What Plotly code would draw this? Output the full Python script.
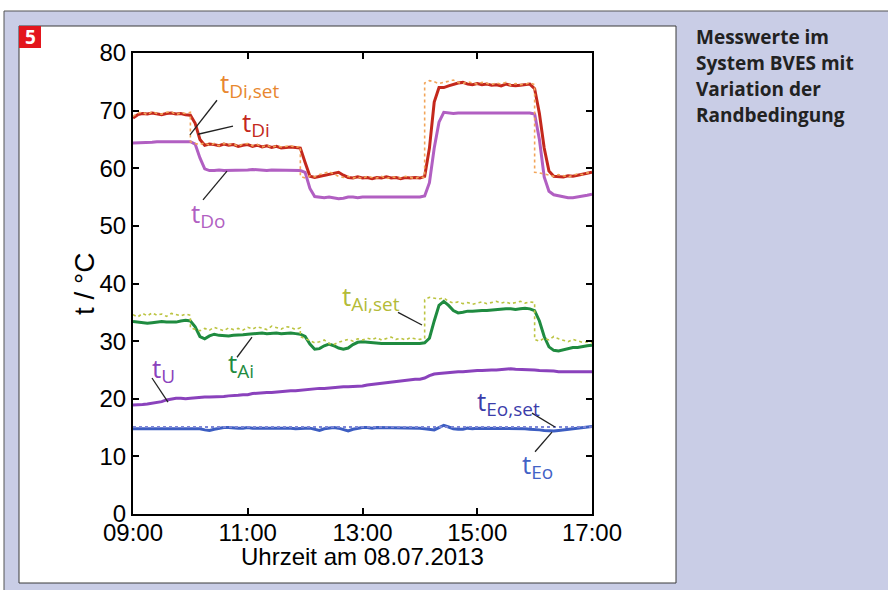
import plotly.graph_objects as go

W, H = 888, 590

# Measured series: one sample every 5 minutes from 09:00 to 17:00
minutes = list(range(0, 481, 5))
hours = [9 + m / 60 for m in minutes]

t_Di = [68.7, 69.3, 69.5, 69.4, 69.6, 69.5, 69.3, 69.5, 69.6, 69.4, 69.5, 69.3,
        69.2, 67.8, 65.0, 64.0, 64.2, 64.1, 63.9, 64.2, 64.0, 64.1, 63.8, 64.0,
        64.1, 63.8, 64.0, 63.7, 63.9, 63.6, 63.8, 63.5, 63.6, 63.7, 63.6, 63.5,
        61.0, 58.6, 58.4, 58.6, 58.8, 59.0, 59.2, 59.3, 58.8, 58.4, 58.3, 58.5,
        58.3, 58.4, 58.2, 58.4, 58.3, 58.5, 58.3, 58.4, 58.2, 58.4, 58.3, 58.4,
        58.3, 58.6, 63.5, 71.5, 74.0, 74.0, 74.3, 74.6, 74.8, 74.9, 74.6, 74.5,
        74.7, 74.5, 74.6, 74.4, 74.5, 74.3, 74.6, 74.4, 74.3, 74.4, 74.5, 74.6,
        73.8, 69.5, 63.5, 59.5, 58.6, 58.6, 58.5, 58.7, 58.6, 58.8, 59.0, 59.1,
        59.3]

t_Do = [64.4, 64.4, 64.5, 64.5, 64.5, 64.6, 64.6, 64.6, 64.7, 64.7, 64.7, 64.7,
        64.6, 64.2, 61.8, 59.9, 59.6,
        59.6, 59.7, 59.6, 59.6, 59.7, 59.7, 59.6, 59.7, 59.8, 59.7, 59.7, 59.6,
        59.7, 59.7, 59.6, 59.7, 59.6, 59.6, 59.6,
        59.3, 56.5, 55.1,
        55.0, 54.9, 55.0, 54.9, 54.7, 54.8, 55.0, 55.0, 54.9, 55.0, 55.0, 54.9,
        55.0, 55.0, 55.0, 54.9, 55.0, 55.0, 55.0, 55.0, 55.0, 55.0,
        55.2, 57.5, 63.5, 68.0, 69.7, 69.6,
        69.5, 69.6, 69.6, 69.5, 69.6, 69.6, 69.6, 69.5, 69.6, 69.6, 69.6, 69.6,
        69.6, 69.5, 69.6, 69.6, 69.6,
        69.4, 65.0, 58.5, 56.0, 55.4, 55.2, 55.0,
        54.9, 54.9, 55.0, 55.1, 55.3, 55.5]

t_Ai = [33.4, 33.3, 33.2, 33.1, 33.2, 33.3, 33.4, 33.3, 33.3, 33.3, 33.5, 33.6,
        33.5, 32.5, 30.8, 30.4, 30.9, 31.2, 31.0, 30.9, 30.9, 31.0, 31.0, 31.1,
        31.2, 31.3, 31.3, 31.4, 31.3, 31.4, 31.4, 31.3, 31.4, 31.4, 31.3, 31.2,
        30.8, 29.5, 28.6, 28.7, 29.2, 29.5, 29.2, 28.8, 28.6, 28.8, 29.4, 29.8,
        29.9, 29.8, 29.7, 29.6, 29.6, 29.6, 29.6, 29.5, 29.6, 29.6, 29.6, 29.6,
        29.6, 29.7, 30.5, 33.5, 36.2, 36.9, 36.2, 35.3, 34.9, 35.0, 35.2, 35.2,
        35.3, 35.3, 35.3, 35.4, 35.4, 35.5, 35.6, 35.6, 35.5, 35.6, 35.7, 35.6,
        35.3, 33.5, 30.8, 29.0, 28.4, 28.3, 28.5, 28.7, 28.9, 28.9, 29.1, 29.2,
        29.3]

t_U = [18.9, 18.9, 19.0, 19.1, 19.2, 19.3, 19.5, 19.8, 20.0, 20.1, 20.1, 20.0,
       20.1, 20.2, 20.2, 20.3, 20.3, 20.3, 20.4, 20.4, 20.5, 20.5, 20.6, 20.7,
       20.7, 20.9, 21.0, 21.0, 21.1, 21.1, 21.2, 21.3, 21.3, 21.4, 21.4, 21.5,
       21.5, 21.6, 21.7, 21.8, 21.8, 21.9, 22.0, 22.0, 22.1, 22.1, 22.1, 22.2,
       22.2, 22.4, 22.5, 22.6, 22.7, 22.9, 23.0, 23.1, 23.1, 23.2, 23.3, 23.4,
       23.4, 23.6, 24.0, 24.3, 24.4, 24.5, 24.6, 24.6, 24.7, 24.7, 24.8, 24.8,
       24.9, 24.9, 25.0, 25.0, 25.0, 25.1, 25.1, 25.2, 25.1, 25.1, 25.0, 25.0,
       25.0, 24.9, 24.9, 24.8, 24.8, 24.7, 24.7, 24.7, 24.7, 24.7, 24.7, 24.7,
       24.7]

t_Eo = [14.8, 14.8, 14.9, 14.8, 14.8, 14.9, 14.9, 14.8, 14.8, 14.9, 14.9, 14.9,
        14.9, 14.8, 14.8, 14.6, 14.5, 14.7, 14.9, 15.0, 15.0,
        14.9, 14.9, 14.9, 15.0, 14.9, 14.9, 14.9, 14.9, 14.9, 15.0, 14.9, 14.9,
        14.9, 14.8, 14.9, 14.9, 14.9, 14.7,
        14.5, 14.8, 14.9, 15.0, 14.9, 14.6, 14.4, 14.7, 14.9, 15.0,
        15.0, 14.9, 15.0, 15.0, 14.9, 15.0, 15.0, 14.9, 15.0, 15.0, 14.9, 14.9,
        14.8, 14.7,
        14.6, 15.0, 15.4, 15.1, 14.8, 14.7, 14.7, 14.9, 14.8, 14.9,
        14.9, 14.8, 14.9, 14.9, 14.8, 14.8, 14.8, 14.9, 14.8, 14.8, 14.7, 14.7,
        14.6, 14.5, 14.4, 14.4, 14.5, 14.6, 14.7, 14.8, 14.9, 15.0, 15.1, 15.2]

# Set points: 5-minute samples, split at the switching times (minutes after 09:00)
SET_BREAKS = [0, 60, 175, 305, 420, 480]
set_hours = []
for a, b in zip(SET_BREAKS[:-1], SET_BREAKS[1:]):
    set_hours += [9 + m / 60 for m in range(a, b + 1, 5)]

t_Di_set = (
    [69.0, 69.6, 69.7, 69.3, 69.8, 69.5, 69.4, 69.7, 69.8, 69.3, 69.6, 69.5, 69.7]
    + [64.6, 64.3, 64.1, 64.4, 64.0, 64.3, 63.9, 64.3, 64.1, 64.2, 63.8, 64.2,
       64.3, 63.9, 64.1, 63.7, 64.0, 63.6, 63.9, 63.7, 63.8, 63.9, 63.6, 63.8]
    + [58.6, 58.3, 58.7, 58.5, 58.9, 59.1, 59.4, 59.0, 58.6, 58.4, 58.6, 58.3,
       58.5, 58.2, 58.6, 58.4, 58.3, 58.6, 58.2, 58.5, 58.4, 58.3, 58.6, 58.4,
       58.2, 58.5, 58.4]
    + [74.8, 75.2, 75.0, 74.7, 74.9, 75.1, 75.3, 74.9, 74.7, 75.0, 74.8, 74.6,
       74.9, 74.7, 74.5, 74.8, 74.6, 74.9, 74.4, 74.7, 74.5, 74.6, 74.8, 74.5]
    + [59.3, 59.2, 59.0, 58.8, 58.6, 58.9, 58.7, 58.5, 58.8, 59.0, 58.9, 59.2, 59.3]
)

t_Ai_set = (
    [34.6, 34.2, 34.8, 34.4, 34.9, 34.5, 34.7, 34.3, 34.8, 34.6, 34.4, 34.7, 34.5]
    + [32.3, 32.0, 31.8, 32.2, 31.9, 32.4, 32.1, 31.8, 32.3, 32.0, 32.2, 31.9,
       32.4, 32.1, 32.5, 32.2, 32.0, 32.6, 32.3, 32.1, 32.5, 32.4, 32.0, 32.3]
    + [30.8, 30.4, 30.0, 29.7, 29.9, 30.2, 29.6, 29.4, 29.8, 30.1, 30.3, 30.0,
       30.4, 30.2, 30.5, 30.3, 30.6, 30.2, 30.4, 30.7, 30.3, 30.5, 30.2, 30.6,
       30.4, 30.3, 30.5]
    + [37.2, 37.6, 37.4, 37.3, 37.5, 36.9, 36.6, 36.8, 36.5, 36.7, 36.4, 36.6,
       36.8, 36.5, 36.7, 36.9, 36.6, 36.8, 36.5, 36.7, 36.9, 36.6, 36.8, 36.7]
    + [30.3, 30.0, 30.5, 30.2, 30.8, 30.4, 30.1, 29.9, 30.3, 30.0, 29.8, 29.9, 29.7]
)

eo_set_hours = [9.0, 17.0]
t_Eo_set = [15.1, 15.1]

for s in (t_Di, t_Do, t_Ai, t_U, t_Eo):
    assert len(s) == len(hours)
for s in (t_Di_set, t_Ai_set):
    assert len(s) == len(set_hours)

x_ticks = [9, 11, 13, 15, 17]
x_tick_text = ["09:00", "11:00", "13:00", "15:00", "17:00"]
y_ticks = [0, 10, 20, 30, 40, 50, 60, 70, 80]

C_DI, C_DI_SET = "#c4281c", "#f2a55a"
C_DO = "#b15fc2"
C_AI, C_AI_SET = "#1f8b40", "#bcc442"
C_U = "#8a42bc"
C_EO, C_EO_SET = "#3d5ec2", "#7d86d6"

fig = go.Figure()


def solid(x, y, color, name):
    fig.add_trace(go.Scatter(x=x, y=y, mode="lines", name=name,
                             line=dict(color=color, width=3)))


def dotted(x, y, color, name, width=1.6):
    fig.add_trace(go.Scatter(x=x, y=y, mode="lines", name=name,
                             line=dict(color=color, width=width, dash="dot")))


solid(hours, t_Do, C_DO, "tDo")
solid(hours, t_Di, C_DI, "tDi")
dotted(set_hours, t_Di_set, C_DI_SET, "tDi,set")
solid(hours, t_Ai, C_AI, "tAi")
dotted(set_hours, t_Ai_set, C_AI_SET, "tAi,set")
solid(hours, t_U, C_U, "tU")
solid(hours, t_Eo, C_EO, "tEo")
dotted(eo_set_hours, t_Eo_set, C_EO_SET, "tEo,set", width=2)


def pxx(x):
    return x / W


def pxy(y):
    return 1 - y / H


shapes = [
    # lavender frame (runs off the right and bottom edge)
    dict(type="rect", xref="paper", yref="paper", layer="below",
         x0=pxx(4), x1=1, y0=pxy(11), y1=0,
         fillcolor="#c9cde6", line=dict(width=0)),
    dict(type="line", xref="paper", yref="paper", layer="below",
         x0=pxx(4), x1=1, y0=pxy(11), y1=pxy(11),
         line=dict(color="#555555", width=1)),
    dict(type="line", xref="paper", yref="paper", layer="below",
         x0=pxx(4), x1=pxx(4), y0=pxy(11), y1=0,
         line=dict(color="#555555", width=1)),
    # white chart panel
    dict(type="rect", xref="paper", yref="paper", layer="below",
         x0=pxx(19), x1=pxx(676), y0=pxy(26), y1=pxy(583),
         fillcolor="#ffffff", line=dict(color="#3a3a3a", width=1)),
    # red figure-number box
    dict(type="rect", xref="paper", yref="paper", layer="below",
         x0=pxx(19), x1=pxx(41), y0=pxy(26), y1=pxy(48),
         fillcolor="#e3161d", line=dict(width=0)),
]

# leader lines from labels to curves (hour, degC)
leaders = [
    (10.464, 71.8, 9.993, 65.8),
    (10.743, 67.3, 10.133, 65.9),
    (10.638, 59.5, 10.220, 54.5),
    (13.619, 35.0, 14.037, 32.8),
    (10.813, 27.2, 11.074, 30.7),
    (9.331, 23.6, 9.610, 19.4),
    (15.954, 17.5, 16.355, 15.1),
    (16.007, 10.8, 16.303, 14.2),
]
for x0, y0, x1, y1 in leaders:
    shapes.append(dict(type="line", xref="x", yref="y", x0=x0, y0=y0, x1=x1, y1=y1,
                       line=dict(color="#222222", width=1.3)))

LBL_FONT = "Open Sans"
labels = [
    ("Di,set", 10.48, 74.6, "#e8872f"),
    ("Di", 10.86, 67.7, C_DI),
    ("Do", 9.98, 51.9, C_DO),
    ("Ai,set", 12.61, 37.5, "#b3bb38"),
    ("Ai", 10.62, 25.9, C_AI),
    ("U", 9.30, 25.0, C_U),
    ("Eo,set", 14.96, 19.4, "#3b3daa"),
    ("Eo", 15.75, 8.5, "#4262c6"),
]
annotations = []
for sub, x, y, color in labels:
    text = "t<sub><span style='font-size:19px'>" + sub + "</span></sub>"
    annotations.append(dict(text=text, x=x, y=y, xref="x", yref="y",
                            xanchor="left", yanchor="middle", showarrow=False,
                            font=dict(family=LBL_FONT, size=26, color=color)))

annotations.append(dict(text="<b>5</b>", x=pxx(30), y=pxy(37), xref="paper", yref="paper",
                        xanchor="center", yanchor="middle", showarrow=False,
                        font=dict(family="Open Sans", size=19, color="#ffffff")))

side_lines = ["Messwerte im", "System BVES mit", "Variation der", "Randbedingung"]
for i, line in enumerate(side_lines):
    annotations.append(dict(text="<b>" + line + "</b>", x=pxx(694), y=pxy(37 + 26 * i),
                            xref="paper", yref="paper", xanchor="left", yanchor="middle",
                            showarrow=False,
                            font=dict(family="Open Sans", size=19, color="#222222")))

AX_FONT = dict(family="Liberation Sans, Arial, sans-serif", size=24, color="#000000")

# axis titles
annotations.append(dict(text="Uhrzeit am 08.07.2013", x=pxx(362), y=pxy(556),
                        xref="paper", yref="paper", xanchor="center", yanchor="middle",
                        showarrow=False, font=AX_FONT))
annotations.append(dict(text="t / °C", x=pxx(84), y=pxy(284), textangle=-90,
                        xref="paper", yref="paper", xanchor="center", yanchor="middle",
                        showarrow=False,
                        font=dict(family=AX_FONT["family"], size=28, color="#000000")))

fig.update_layout(
    width=W, height=H,
    autosize=False,
    margin=dict(l=0, r=0, t=0, b=0, pad=0, autoexpand=False),
    paper_bgcolor="#ffffff",
    plot_bgcolor="rgba(0,0,0,0)",
    showlegend=False,
    shapes=shapes,
    annotations=annotations,
    xaxis=dict(
        domain=[pxx(133), pxx(592)], range=[9, 17], automargin=False,
        tickvals=x_ticks, ticktext=x_tick_text, ticklabelstandoff=-4,
        ticks="inside", ticklen=6, tickwidth=2, tickcolor="#000000",
        showline=True, linecolor="#000000", linewidth=2, mirror="ticks",
        showgrid=False, zeroline=False, tickfont=AX_FONT,
    ),
    yaxis=dict(
        domain=[pxy(514), pxy(53)], range=[0, 80], automargin=False,
        tickvals=y_ticks,
        ticks="inside", ticklen=6, tickwidth=2, tickcolor="#000000",
        showline=True, linecolor="#000000", linewidth=2, mirror="ticks",
        showgrid=False, zeroline=False, tickfont=AX_FONT,
    ),
)

fig.write_html("out.html")
